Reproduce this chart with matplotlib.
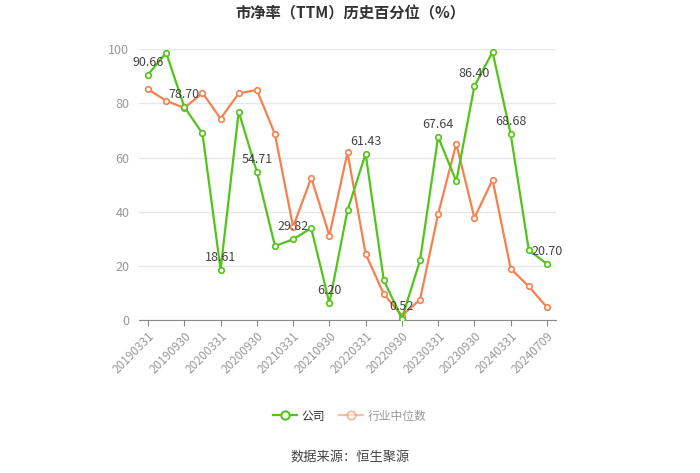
import matplotlib.pyplot as plt
from matplotlib.lines import Line2D

plt.rcParams['font.family'] = ['Noto Sans CJK SC', 'DejaVu Sans']

dates = ['20190331', '20190630', '20190930', '20191231', '20200331', '20200630',
         '20200930', '20201231', '20210331', '20210630', '20210930', '20211231',
         '20220331', '20220630', '20220930', '20221231', '20230331', '20230630',
         '20230930', '20231231', '20240331', '20240630', '20240709']
company = [90.66, 98.7, 78.70, 68.9, 18.61, 77.0, 54.71, 27.3, 29.82, 33.9, 6.20, 40.5,
           61.43, 14.7, 0.52, 22.0, 67.64, 51.2, 86.40, 99.0, 68.68, 25.8, 20.70]
industry = [85.2, 81.0, 78.3, 83.9, 74.4, 83.7, 85.0, 68.6, 34.4, 52.5, 31.2, 61.9,
            24.4, 9.6, 1.6, 7.5, 39.2, 65.1, 37.7, 51.8, 19.0, 12.4, 4.7]

green = '#52C41A'
orange = '#F7804F'

fig = plt.figure(figsize=(7, 4.73), dpi=100)
ax = fig.add_axes([139 / 700, 1 - 320 / 473, 417 / 700, (320 - 49.3) / 473])

x = list(range(len(dates)))
ax.plot(x, industry, color=orange, lw=1.6, marker='o', ms=4, mfc='white', mew=1.2, zorder=3)
ax.plot(x, company, color=green, lw=1.6, marker='o', ms=4, mfc='white', mew=1.2, zorder=4)

# labels on every other company point
for i in range(0, len(company), 2):
    ax.text(i, company[i] + 2.2, f'{company[i]:.2f}', ha='center', va='bottom',
            fontsize=9, color='#444444', zorder=5)

ax.set_xlim(-0.5, len(dates) - 0.5)
ax.set_ylim(0, 100)
ax.set_yticks([0, 20, 40, 60, 80, 100])
ax.grid(axis='y', color='#E8E8E8', lw=1)
ax.set_axisbelow(True)
ax.set_xticks(x[::2])
ax.set_xticklabels(dates[::2], rotation=45, ha='right', rotation_mode='anchor',
                   fontsize=8.5, color='#999999')
ax.tick_params(axis='y', length=0, labelsize=9, labelcolor='#999999', pad=7)
ax.tick_params(axis='x', length=4, color='#888888', pad=3)
for s in ['top', 'right', 'left']:
    ax.spines[s].set_visible(False)
ax.spines['bottom'].set_color('#888888')

fig.text(0.5, 1 - 13 / 473, '市净率（TTM）历史百分位（%）', ha='center', va='center',
         fontsize=11, fontweight='bold', color='#333333')

handles = [Line2D([], [], color=green, lw=1.6, marker='o', ms=6, mfc='white', mew=1.5),
           Line2D([], [], color=orange, lw=1.6, marker='o', ms=6, mfc='white', mew=1.5, alpha=0.5)]
leg = fig.legend(handles, ['公司', '行业中位数'], loc='center', bbox_to_anchor=(0.5, 1 - 416 / 473),
                 ncol=2, frameon=False, fontsize=8.5, handlelength=2.0, columnspacing=1.2,
                 handletextpad=0.4)
leg.get_texts()[0].set_color('#333333')
leg.get_texts()[1].set_color('#999999')

fig.text(0.5, 1 - 457 / 473, '数据来源：恒生聚源', ha='center', va='center',
         fontsize=9.5, color='#444444')

fig.savefig('out.png', dpi=100)
